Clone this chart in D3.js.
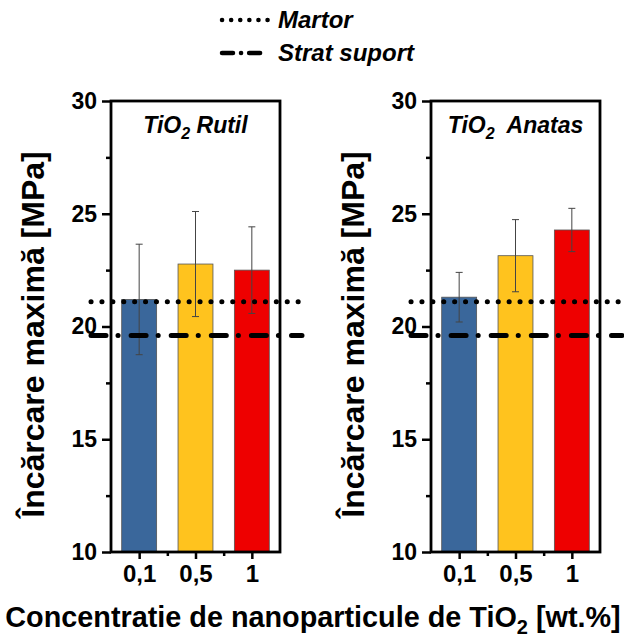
<!DOCTYPE html>
<html>
<head>
<meta charset="utf-8">
<script src="https://cdn.jsdelivr.net/npm/d3@7"></script>
<style>
  body { margin: 0; background: #fff; }
  svg text { font-family: "Liberation Sans", Arial, sans-serif; font-weight: bold; fill: #000; }
</style>
</head>
<body>
<div id="chart"></div>
<script>
// data
const categories = ['0,1', '0,5', '1'];
const rutilMean = [21.2, 22.77, 22.5];
const rutilErr = [2.45, 2.33, 1.92];
const anatasMean = [21.3, 23.14, 24.28];
const anatasErr = [1.1, 1.6, 0.96];
const martorValue = 21.1;
const stratValue = 19.6;
const yTicks = [10, 15, 20, 25, 30];
const yMinorTicks = [12.5, 17.5, 22.5, 27.5];

const barColors = ['#3a679b', '#ffc31e', '#ee0000'];
const dotDash = '0.1 10.8';
const dashDot = '15 12 0.1 13';

const width = 624;
const height = 637;
const plotTop = 101;
const plotBottom = 552;

const svg = d3.select('#chart').append('svg')
  .attr('width', width)
  .attr('height', height);

const y = d3.scaleLinear().domain([10, 30]).range([plotBottom, plotTop]);

function panel (left, right, means, errs, title) {
  const g = svg.append('g');
  // category index scale, half a step of padding on each side
  const xi = d3.scaleLinear().domain([-0.5, categories.length - 0.5]).range([left, right]);
  const step = xi(1) - xi(0);
  const barW = step * 0.62;

  g.selectAll('.bar')
    .data(means)
    .enter().append('rect')
    .attr('class', 'bar')
    .attr('x', (d, i) => xi(i) - barW / 2)
    .attr('width', barW)
    .attr('y', (d) => y(d))
    .attr('height', (d) => plotBottom - y(d))
    .attr('fill', (d, i) => barColors[i])
    .attr('stroke', '#555')
    .attr('stroke-width', 0.8);

  // error bars
  const eb = g.selectAll('.err')
    .data(means)
    .enter().append('g')
    .attr('class', 'err')
    .attr('stroke', '#444')
    .attr('stroke-width', 1);
  eb.append('line')
    .attr('x1', (d, i) => xi(i)).attr('x2', (d, i) => xi(i))
    .attr('y1', (d, i) => y(d - errs[i])).attr('y2', (d, i) => y(d + errs[i]));
  eb.append('line')
    .attr('x1', (d, i) => xi(i) - 3.5).attr('x2', (d, i) => xi(i) + 3.5)
    .attr('y1', (d, i) => y(d + errs[i])).attr('y2', (d, i) => y(d + errs[i]));
  eb.append('line')
    .attr('x1', (d, i) => xi(i) - 3.5).attr('x2', (d, i) => xi(i) + 3.5)
    .attr('y1', (d, i) => y(d - errs[i])).attr('y2', (d, i) => y(d - errs[i]));

  // reference lines
  g.append('line')
    .attr('x1', left - 20).attr('x2', right + 22)
    .attr('y1', y(martorValue)).attr('y2', y(martorValue))
    .attr('stroke', '#000').attr('stroke-width', 5)
    .attr('stroke-linecap', 'round')
    .attr('stroke-dasharray', dotDash);
  g.append('line')
    .attr('x1', left - 20).attr('x2', right + 22)
    .attr('y1', y(stratValue)).attr('y2', y(stratValue))
    .attr('stroke', '#000').attr('stroke-width', 5)
    .attr('stroke-linecap', 'round')
    .attr('stroke-dasharray', dashDot);

  // y axis
  const yAxis = g.append('g')
    .attr('transform', `translate(${left},0)`)
    .call(d3.axisLeft(y).tickValues(yTicks).tickSize(9).tickPadding(5));
  yAxis.selectAll('text').style('font-size', '23px');
  g.append('g')
    .attr('transform', `translate(${left},0)`)
    .call(d3.axisLeft(y).tickValues(yMinorTicks).tickSize(5).tickFormat(''));

  // x axis
  const xAxis = g.append('g')
    .attr('transform', `translate(0,${plotBottom})`)
    .call(d3.axisBottom(xi).tickValues(d3.range(categories.length)).tickSize(7).tickPadding(6)
      .tickFormat((i) => categories[i]));
  xAxis.selectAll('text').style('font-size', '24px');
  g.append('g')
    .attr('transform', `translate(0,${plotBottom})`)
    .call(d3.axisBottom(xi).tickValues([0.5, 1.5]).tickSize(4).tickFormat(''));

  svg.selectAll('.domain').remove();
  svg.selectAll('.tick line').attr('stroke', '#000').attr('stroke-width', 2.5);

  // frame
  g.append('rect')
    .attr('x', left).attr('y', plotTop)
    .attr('width', right - left).attr('height', plotBottom - plotTop)
    .attr('fill', 'none').attr('stroke', '#000').attr('stroke-width', 2.8);

  // panel title
  const t = g.append('text')
    .attr('x', (left + right) / 2).attr('y', 133)
    .attr('text-anchor', 'middle')
    .style('font-size', '23px').style('font-style', 'italic');
  t.append('tspan').text('TiO');
  t.append('tspan').text('2').attr('dy', 6).style('font-size', '16px');
  t.append('tspan').text(title).attr('dy', -6);

  // y title
  svg.append('text')
    .attr('transform', `translate(${left - 67},${(plotTop + plotBottom) / 2 + 8}) rotate(-90)`)
    .attr('text-anchor', 'middle')
    .style('font-size', '32px')
    .text('Încărcare maximă [MPa]');
}

panel(111, 280, rutilMean, rutilErr, ' Rutil');
panel(431, 600, anatasMean, anatasErr, '\u00a0 Anatas');

// x title
const xt = svg.append('text')
  .attr('x', 313).attr('y', 627)
  .attr('text-anchor', 'middle')
  .style('font-size', '28.8px');
xt.append('tspan').text('Concentratie de nanoparticule de TiO');
xt.append('tspan').text('2').attr('dy', 7).style('font-size', '20px');
xt.append('tspan').text(' [wt.%]').attr('dy', -7);

// legend
const legend = svg.append('g');
const legendItems = [
  { label: 'Martor', dash: '0.1 9', y: 20 },
  { label: 'Strat suport', dash: '11 8 0.1 8', y: 53 }
];
legend.selectAll('line')
  .data(legendItems)
  .enter().append('line')
  .attr('x1', 222).attr('x2', 268)
  .attr('y1', (d) => d.y).attr('y2', (d) => d.y)
  .attr('stroke', '#000').attr('stroke-width', 4.5)
  .attr('stroke-linecap', 'round')
  .attr('stroke-dasharray', (d) => d.dash);
legend.selectAll('text')
  .data(legendItems)
  .enter().append('text')
  .attr('x', 278).attr('y', (d) => d.y + 8)
  .style('font-size', '24px').style('font-style', 'italic')
  .text((d) => d.label);
</script>
</body>
</html>
